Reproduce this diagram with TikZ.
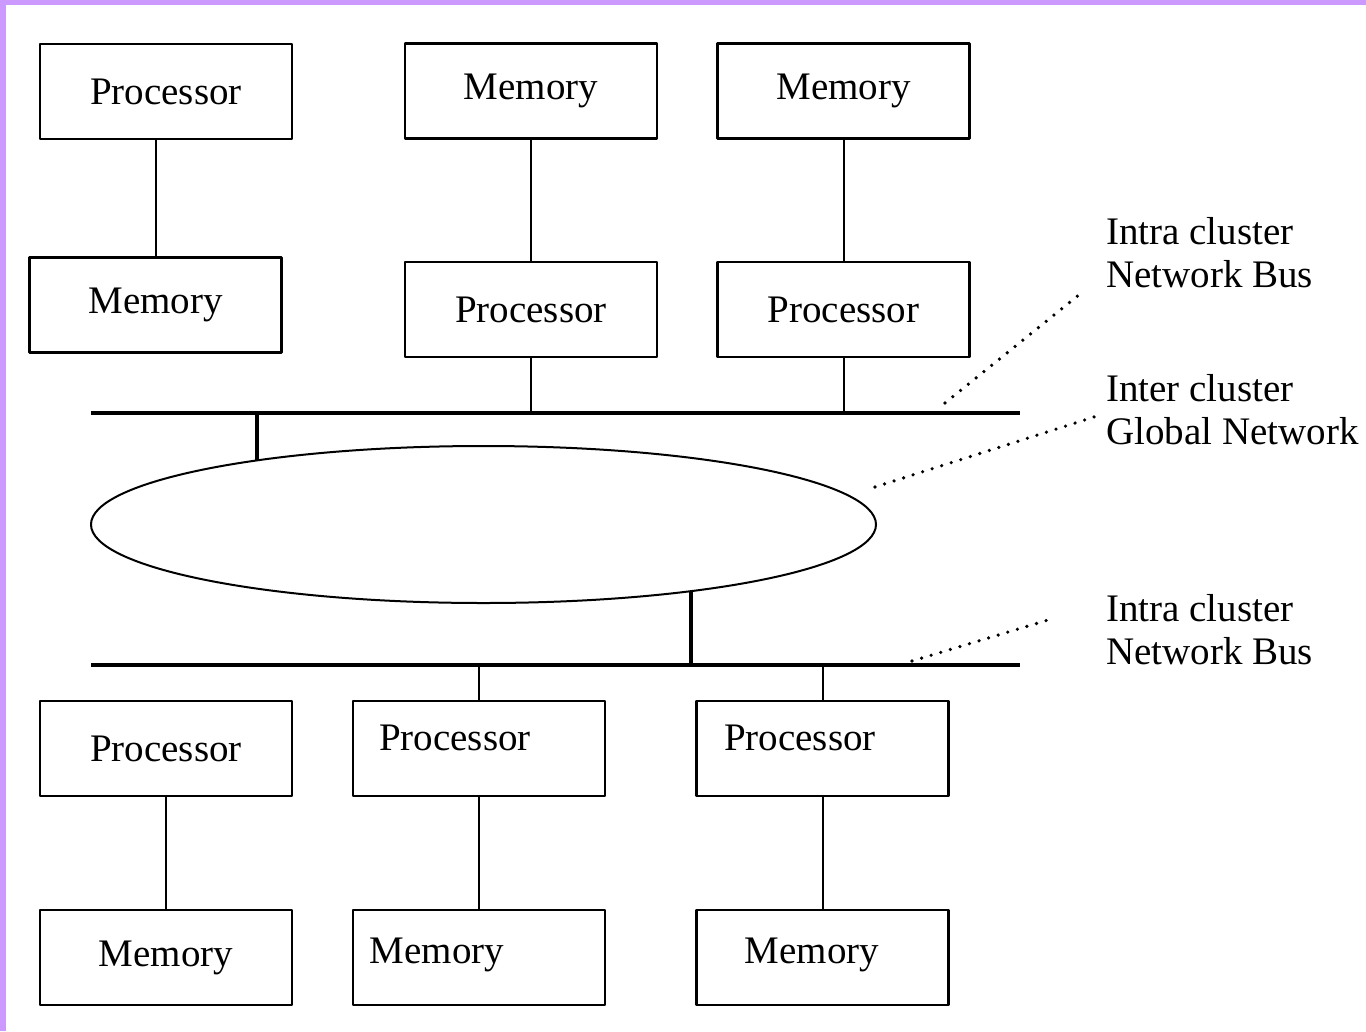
\documentclass[tikz,border=0pt]{standalone}
\usepackage{fontspec}
\setmainfont{Liberation Serif}
\usetikzlibrary{shapes.geometric}
\definecolor{lilac}{RGB}{204,153,255}
\tikzset{
  unit/.style={draw, line width=2.2bp, minimum width=252bp, minimum height=95bp, inner sep=0pt},
  wire/.style={line width=2bp},
  bus/.style={line width=4.5bp},
  tap/.style={line width=3.8bp},
  leader/.style={line width=3.6bp, line cap=round, dash pattern=on 0pt off 10bp},
  note/.style={align=left, anchor=west, inner sep=0pt}
}
\begin{document}
\begin{tikzpicture}[x=1bp, y=-1bp, font=\fontsize{39bp}{43bp}\selectfont, line join=round]
  \useasboundingbox (0,0) rectangle (1366,1031);
  \fill[lilac] (0,0) rectangle (1366,5);
  \fill[lilac] (0,0) rectangle (6,1031);
  % upper cluster
  \node[unit] (p1) at (166,91.5) {Processor};
  \node[unit] (m1) at (155.5,305) {Memory};
  \node[unit] (m2) at (531,91) {Memory};
  \node[unit] (p2) at (531,309.5) {Processor};
  \node[unit] (m3) at (843.5,91) {Memory};
  \node[unit] (p3) at (843.5,309.5) {Processor};
  \coordinate (busA-w) at (91,413);
  \coordinate (busA-e) at (1020,413);
  \draw[bus] (busA-w) -- (busA-e);
  \draw[wire] (m1.north) -- (m1.north |- p1.south);
  \draw[wire] (m2.south) -- (p2.north);
  \draw[wire] (m3.south) -- (p3.north);
  \draw[wire] (p2.south) -- (p2.south |- busA-w);
  \draw[wire] (p3.south) -- (p3.south |- busA-w);
  % global network
  \node[draw, ellipse, line width=2bp, minimum width=785bp, minimum height=157bp, inner sep=0pt] (gnet) at (483.5,524.5) {};
  \coordinate (busB-w) at (91,665);
  \coordinate (busB-e) at (1020,665);
  \draw[bus] (busB-w) -- (busB-e);
  \draw[tap] (gnet.164) -- (gnet.164 |- busA-w);
  \draw[tap] (gnet.342) -- (gnet.342 |- busB-w);
  % lower cluster
  \node[unit] (p4) at (166,748.5) {Processor};
  \node[unit] (p5) at (479,748.5) {};
  \node[unit] (p6) at (822.5,748.5) {};
  \node (p5t) at ([shift={(-24,-11)}]p5.center) {Processor};
  \node (p6t) at ([shift={(-22.5,-11)}]p6.center) {Processor};
  \node[unit] (m4) at (166,957.5) {Memory};
  \node[unit] (m5) at (479,957.5) {};
  \node[unit] (m6) at (822.5,957.5) {};
  \node (m5t) at ([shift={(-42,-3)}]m5.center) {Memory};
  \node (m6t) at ([shift={(-10.5,-3)}]m6.center) {Memory};
  \draw[wire] (busB-w -| p5.north) -- (p5.north);
  \draw[wire] (busB-w -| p6.north) -- (p6.north);
  \draw[wire] (p4.south) -- (m4.north);
  \draw[wire] (p5.south) -- (m5.north);
  \draw[wire] (p6.south) -- (m6.north);
  % labels
  \node[note] (lblA) at (1106,253) {Intra cluster\\Network Bus};
  \node[note] (lblB) at (1106,410) {Inter cluster\\Global Network};
  \node[note] (lblC) at (1106,630) {Intra cluster\\Network Bus};
  \coordinate (ldA1) at (945,403);
  \coordinate (ldA2) at (1080,294);
  \coordinate (ldB1) at (875,487);
  \coordinate (ldB2) at (1097,416);
  \coordinate (ldC1) at (912,661);
  \coordinate (ldC2) at (1048,620);
  \draw[leader] (ldA1) -- (ldA2);
  \draw[leader] (ldB1) -- (ldB2);
  \draw[leader] (ldC1) -- (ldC2);
\end{tikzpicture}
\end{document}
